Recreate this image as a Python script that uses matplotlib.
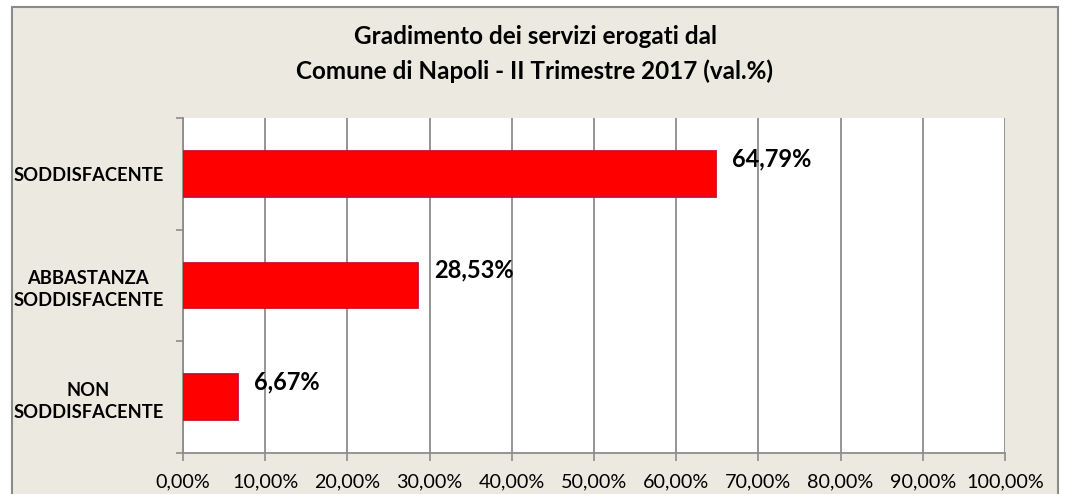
import matplotlib
matplotlib.use("Agg")
import matplotlib.pyplot as plt
from matplotlib.patches import Rectangle
from matplotlib.ticker import FuncFormatter, MultipleLocator, FixedLocator

# dati (valori percentuali)
categorie = ["NON\nSODDISFACENTE", "ABBASTANZA\nSODDISFACENTE", "SODDISFACENTE"]
valori = [6.67, 28.53, 64.79]
titolo = "Gradimento dei servizi erogati dal\nComune di Napoli - II Trimestre 2017 (val.%)"

W, H = 1068, 494
bg = "#ECEAE0"
grigio = "#8C8C8C"
plt.rcParams["font.family"] = ["Lato", "DejaVu Sans"]

fig = plt.figure(figsize=(W / 100, H / 100), dpi=100)
fig.patch.set_facecolor("white")

# cornice del grafico
fig.patches.append(Rectangle((12 / W, -0.05), (1058 - 12) / W, (H - 7) / H + 0.05,
                             transform=fig.transFigure, facecolor=bg,
                             edgecolor="#8a8a8a", linewidth=1.5, zorder=-1))

ax = fig.add_axes([183 / W, (H - 453) / H, (1005 - 183) / W, (453 - 118) / H])
ax.set_zorder(1)
ax.set_facecolor("white")

y = list(range(len(categorie)))
ax.barh(y, valori, height=0.41, color="#FF0000", edgecolor="#C8102E",
        linewidth=1.3, zorder=3)

for yi, v in zip(y, valori):
    ax.annotate(f"{v:.2f}%".replace(".", ","), xy=(v, yi), xytext=(12, 11),
                textcoords="offset points", ha="left", va="center",
                fontsize=17, fontweight="bold", zorder=4)

ax.set_xlim(0, 100)
ax.set_ylim(-0.5, len(categorie) - 0.5)
ax.xaxis.set_major_locator(MultipleLocator(10))
ax.xaxis.set_major_formatter(FuncFormatter(lambda x, p: f"{x:.2f}%".replace(".", ",")))
ax.grid(axis="x", color=grigio, linewidth=1.3, zorder=1)
ax.set_axisbelow(True)

ax.set_yticks(y)
ax.set_yticklabels(categorie, fontsize=13.2, fontweight="bold",
                   multialignment="center", linespacing=1.35)
ax.yaxis.set_minor_locator(FixedLocator([-0.5, 0.5, 1.5, 2.5]))
ax.tick_params(axis="y", which="major", length=0, pad=14)
ax.tick_params(axis="y", which="minor", length=5, color=grigio, width=1.2)
ax.tick_params(axis="x", which="major", length=6, color=grigio, width=1.2,
               labelsize=14.2, pad=9)

for s in ["top", "right"]:
    ax.spines[s].set_visible(False)
for s in ["left", "bottom"]:
    ax.spines[s].set_color(grigio)
    ax.spines[s].set_linewidth(1.3)

fig.text(535 / W, 1 - 54 / H, titolo, ha="center", va="center",
         fontsize=17.5, fontweight="bold", linespacing=1.62)

fig.savefig("out.png", dpi=100)
